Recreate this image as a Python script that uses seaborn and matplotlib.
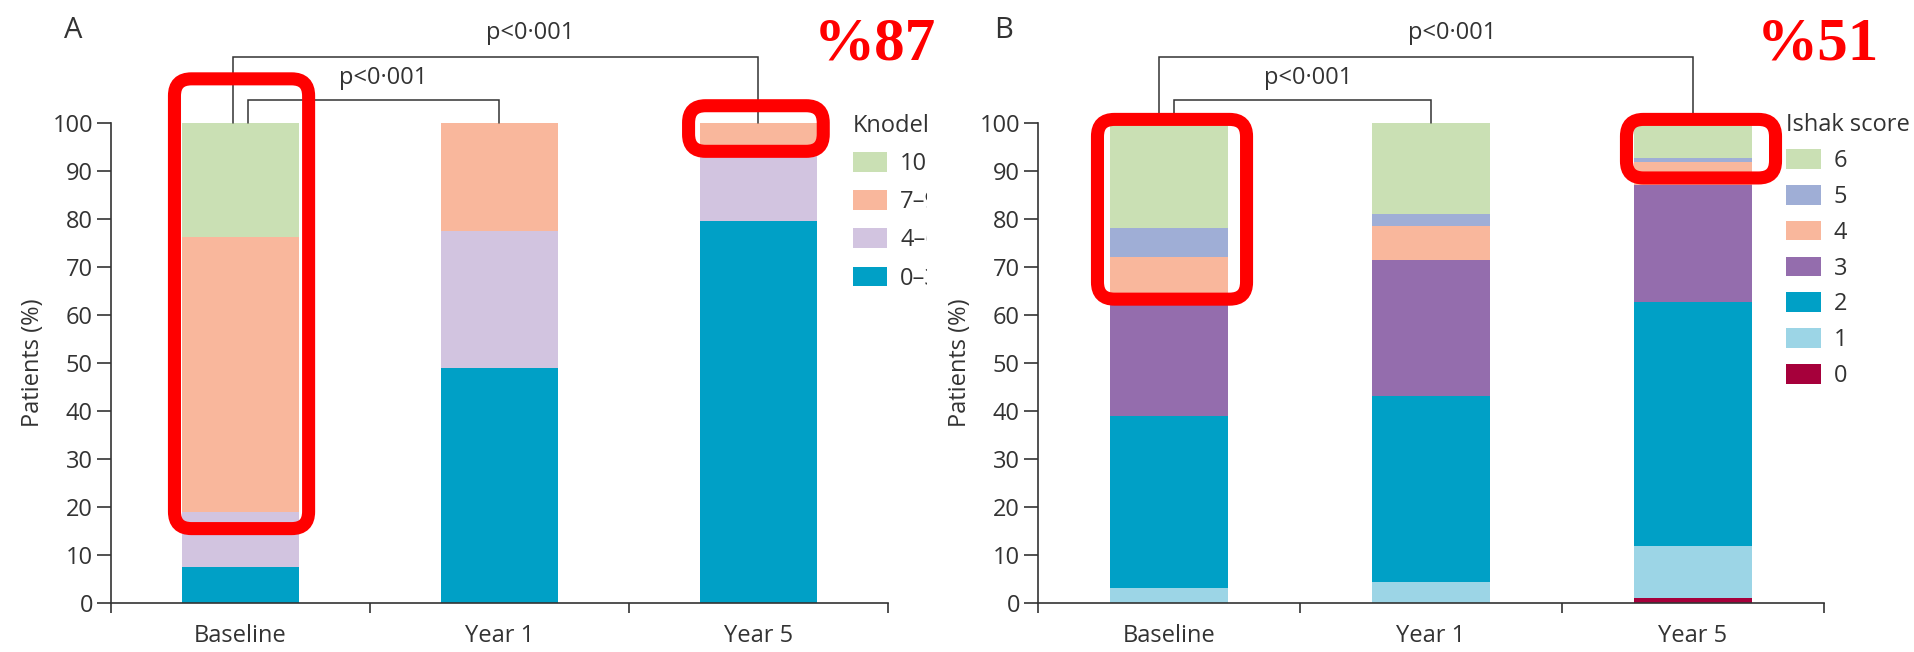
import matplotlib
matplotlib.use('Agg')
import numpy as np
import matplotlib.pyplot as plt
import seaborn as sns
from matplotlib.patches import Patch, FancyBboxPatch
from matplotlib.transforms import Bbox, TransformedBbox, IdentityTransform

# time points on the x axis
timepoints = ['Baseline', 'Year 1', 'Year 5']

# Panel A: Knodell score groups (% of patients), bottom to top of each bar
knodell_labels = ['0–3', '4–6', '7–9', '10–18']
knodell_0_3 = [7.4, 48.9, 79.6]
knodell_4_6 = [11.5, 28.7, 15.2]
knodell_7_9 = [57.3, 22.4, 5.2]
knodell_10_18 = [23.8, 0.0, 0.0]
knodell_colors = ['#00a0c6', '#d2c4e0', '#f9b79c', '#cae0b4']

# Panel B: Ishak score (% of patients), bottom to top
ishak_labels = ['0', '1', '2', '3', '4', '5', '6']
ishak_0 = [0.0, 0.0, 1.1]
ishak_1 = [3.2, 4.4, 10.8]
ishak_2 = [35.8, 38.8, 50.9]
ishak_3 = [24.0, 28.3, 24.2]
ishak_4 = [9.1, 7.0, 4.8]
ishak_5 = [6.0, 2.5, 0.9]
ishak_6 = [21.9, 19.0, 7.3]
ishak_colors = ['#a6003b', '#9cd5e6', '#00a0c6', '#946dad', '#f9b79c', '#9faed6', '#cae0b4']

p_text = 'p<0·001'
ink = '#333333'
fs = 17

sns.set_style('ticks')
plt.rcParams['font.family'] = ['Open Sans', 'DejaVu Sans']

W, H = 1915, 652
fig = plt.figure(figsize=(W / 100, H / 100), dpi=100)
axA = fig.add_axes([111 / W, 49 / H, 777 / W, 480 / H])
axB = fig.add_axes([1038 / W, 49 / H, 786 / W, 480 / H])


def stacked(ax, layers, colors):
    # seaborn stacked bars: draw cumulative totals from the top layer down
    tops = np.cumsum(np.array(layers), axis=0)
    for top, col in zip(tops[::-1], colors[::-1]):
        sns.barplot(x=timepoints, y=top, color=col, width=0.45,
                    saturation=1, linewidth=0, ax=ax)


def style(ax):
    ax.set_xlim(-0.5, 2.5)
    ax.set_ylim(0, 100)
    sns.despine(ax=ax)
    for s in ['left', 'bottom']:
        ax.spines[s].set_color(ink)
        ax.spines[s].set_linewidth(1.2)
    ax.set_yticks(range(0, 101, 10))
    ax.tick_params(axis='y', length=10, width=1.2, color=ink, pad=3,
                   labelsize=fs, labelcolor=ink)
    ax.set_xticks([0, 1, 2])
    ax.set_xticklabels(timepoints)
    ax.tick_params(axis='x', which='major', length=0, pad=15,
                   labelsize=fs, labelcolor=ink)
    ax.set_xticks([-0.5, 0.5, 1.5, 2.5], minor=True)
    ax.tick_params(axis='x', which='minor', length=7, width=1.2, color=ink)
    ax.set_ylabel('Patients (%)', fontsize=fs, color=ink, labelpad=5)
    ax.set_xlabel('')


def bracket(ax, x0, x1, y, tx, ty):
    ax.plot([x0, x0, x1, x1], [100, y, y, 100], color=ink, lw=1.1,
            clip_on=False, solid_joinstyle='miter')
    ax.text(tx, ty, p_text, ha='center', va='center', fontsize=fs,
            color=ink, clip_on=False)


def legend(ax, labels, colors, title, anchor, spacing):
    handles = [Patch(facecolor=c, edgecolor='none', label=l)
               for l, c in zip(labels[::-1], colors[::-1])]
    leg = ax.legend(handles=handles, title=title, loc='upper left',
                    bbox_to_anchor=anchor, frameon=False, fontsize=fs,
                    title_fontsize=fs, handlelength=1.45, handleheight=0.9,
                    labelspacing=spacing, handletextpad=0.55, borderpad=0,
                    borderaxespad=0, alignment='left', labelcolor=ink)
    leg.get_title().set_color(ink)
    return leg


def red_box(ax, x0, x1, y0, y1):
    p0 = ax.transData.transform((x0, y0))
    p1 = ax.transData.transform((x1, y1))
    box = FancyBboxPatch(p0, p1[0] - p0[0], p1[1] - p0[1],
                         boxstyle='round,pad=0,rounding_size=17',
                         transform=IdentityTransform(), fill=False,
                         ec='#ff0000', lw=9.4, zorder=20)
    fig.add_artist(box)


# Panel A
stacked(axA, [knodell_0_3, knodell_4_6, knodell_7_9, knodell_10_18], knodell_colors)
style(axA)
bracket(axA, -0.03, 2.0, 113.75, 1.12, 118.8)
bracket(axA, 0.03, 1.0, 104.8, 0.55, 109.4)
legA = legend(axA, knodell_labels, knodell_colors, 'Knodell', (0.955, 1.019), 0.6)
# the source panel was cropped just past the legend
clip = TransformedBbox(Bbox([[0, 0], [927 / W, 1]]), fig.transFigure)
for t in legA.get_texts() + [legA.get_title()]:
    t.set_clip_box(clip)
    t.set_clip_on(True)

# Panel B
stacked(axB, [ishak_0, ishak_1, ishak_2, ishak_3, ishak_4, ishak_5, ishak_6], ishak_colors)
style(axB)
bracket(axB, -0.04, 2.0, 113.75, 1.08, 118.8)
bracket(axB, 0.02, 1.0, 104.8, 0.53, 109.4)
legend(axB, ishak_labels, ishak_colors, 'Ishak score', (0.952, 1.02), 0.5)

# highlight boxes
red_box(axA, -0.255, 0.263, 15.5, 109.2)
red_box(axA, 1.73, 2.25, 94.1, 103.6)
red_box(axB, -0.273, 0.296, 63.3, 100.75)
red_box(axB, 1.746, 2.315, 88.55, 100.75)

# panel letters and red percentages
fig.text(73 / W, 1 - 31 / H, 'A', fontsize=21, color=ink, ha='center', va='center')
fig.text(1004 / W, 1 - 31 / H, 'B', fontsize=21, color=ink, ha='center', va='center')
fig.text(875 / W, 1 - 44 / H, '%87', fontsize=44, color='#ff0000', fontweight='bold',
         family=['Liberation Serif', 'DejaVu Serif'], ha='center', va='center')
fig.text(1818 / W, 1 - 44 / H, '%51', fontsize=44, color='#ff0000', fontweight='bold',
         family=['Liberation Serif', 'DejaVu Serif'], ha='center', va='center')

fig.savefig('out.png', dpi=100)
